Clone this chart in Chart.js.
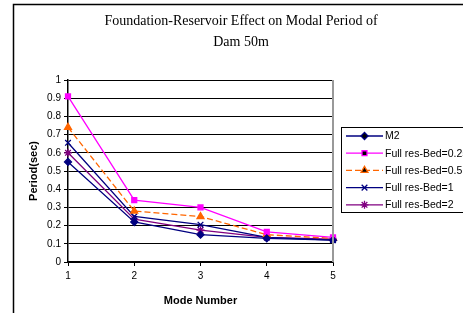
<!DOCTYPE html>
<html>
<head>
<meta charset="utf-8">
<script src="https://cdn.jsdelivr.net/npm/chart.js@4/dist/chart.umd.min.js"></script>
<style>
  html, body { margin: 0; padding: 0; background: #fff; }
  #wrap { width: 463px; height: 313px; position: relative; }
</style>
</head>
<body>
<div id="wrap"><canvas id="myChart" width="463" height="313"></canvas></div>
<script>
// chart data
var modes = ['1', '2', '3', '4', '5'];
var m2 = [0.55, 0.22, 0.15, 0.13, 0.12];
var bed025 = [0.91, 0.34, 0.30, 0.165, 0.135];
var bed05 = [0.74, 0.28, 0.25, 0.15, 0.13];
var bed1 = [0.655, 0.25, 0.205, 0.135, 0.12];
var bed2 = [0.60, 0.235, 0.175, 0.135, 0.125];
var titleLines = ['Foundation-Reservoir Effect on Modal Period of', 'Dam 50m'];

// frame, title and legend box drawn by hand (Excel look)
var decorPlugin = {
    id: 'decor',
    beforeDraw: function (chart) {
        var c = chart.ctx;
        c.save();
        c.fillStyle = '#fff';
        c.fillRect(0, 0, chart.width, chart.height);
        c.strokeStyle = '#000';
        c.lineWidth = 1.5;
        c.beginPath();
        c.moveTo(13.5, 313);
        c.lineTo(13.5, 4.5);
        c.lineTo(463, 4.5);
        c.stroke();
        c.fillStyle = '#000';
        c.font = '14px "Liberation Serif"';
        c.textAlign = 'center';
        c.textBaseline = 'middle';
        c.fillText(titleLines[0], 241, 21);
        c.fillText(titleLines[1], 241, 42);
        c.restore();
    },
    afterDraw: function (chart) {
        var c = chart.ctx;
        var area = chart.chartArea;
        c.save();
        // right plot border
        c.strokeStyle = '#999';
        c.lineWidth = 2;
        c.beginPath();
        c.moveTo(area.right, area.top);
        c.lineTo(area.right, area.bottom);
        c.stroke();
        // legend
        c.strokeStyle = '#000';
        c.lineWidth = 1;
        c.strokeRect(341.5, 127.5, 130, 85);
        c.font = '10.5px "Liberation Sans"';
        c.textAlign = 'left';
        c.textBaseline = 'middle';
        chart.data.datasets.forEach(function (ds, i) {
            var y = 136 + i * 17.2;
            c.strokeStyle = ds.borderColor;
            c.lineWidth = 1.3;
            c.setLineDash(ds.borderDash || []);
            c.beginPath();
            c.moveTo(346, y);
            c.lineTo(383, y);
            c.stroke();
            c.setLineDash([]);
            Chart.helpers.drawPoint(c, {
                pointStyle: ds.pointStyle,
                radius: ds.pointRadius,
                borderWidth: 1.3
            }, 364.5, y);
            c.fillStyle = '#000';
            c.fillText(ds.label, 385, y + 0.5);
        });
        c.restore();
    }
};

function series(label, data, color, style, radius, dash) {
    return {
        label: label,
        data: data,
        borderColor: color,
        backgroundColor: color,
        pointBackgroundColor: color,
        pointBorderColor: color,
        pointStyle: style,
        pointRadius: radius,
        pointBorderWidth: 1.3,
        borderWidth: 1.3,
        borderDash: dash,
        tension: 0,
        fill: false
    };
}

var ctx = document.getElementById('myChart').getContext('2d');
var myChart = new Chart(ctx, {
    type: 'line',
    data: {
        labels: modes,
        datasets: [
            series('M2', m2, '#000080', 'rectRot', 3.5, []),
            series('Full res-Bed=0.25', bed025, '#ff00ff', 'rect', 3.5, []),
            series('Full res-Bed=0.5', bed05, '#ff6600', 'triangle', 4, [6, 3]),
            series('Full res-Bed=1', bed1, '#000080', 'crossRot', 4, []),
            series('Full res-Bed=2', bed2, '#800080', 'star', 4, [])
        ]
    },
    plugins: [decorPlugin],
    options: {
        responsive: false,
        animation: false,
        layout: { padding: { left: 27, top: 80, right: 130, bottom: 0 } },
        plugins: {
            legend: { display: false },
            title: { display: false },
            tooltip: { enabled: false }
        },
        scales: {
            x: {
                offset: false,
                grid: {
                    display: true,
                    drawOnChartArea: false,
                    drawTicks: true,
                    tickLength: 4,
                    color: '#000'
                },
                border: { color: '#000', width: 1.5 },
                ticks: { color: '#000', font: { family: 'Liberation Sans', size: 10 }, padding: 4, maxRotation: 0 },
                title: {
                    display: true,
                    text: 'Mode Number',
                    color: '#000',
                    font: { family: 'Liberation Sans', size: 11, weight: 'bold' },
                    padding: { top: 2, bottom: 5 }
                },
                afterFit: function (scale) { scale.height = 51; }
            },
            y: {
                min: 0,
                max: 1,
                ticks: {
                    stepSize: 0.1,
                    color: '#000',
                    font: { family: 'Liberation Sans', size: 10 },
                    padding: 3,
                    callback: function (v) { return Math.round(v * 10) / 10; }
                },
                grid: { color: '#000', lineWidth: 1, tickLength: 4 },
                border: { color: '#000', width: 1.5 },
                title: {
                    display: true,
                    text: 'Period(sec)',
                    color: '#000',
                    font: { family: 'Liberation Sans', size: 11, weight: 'bold' },
                    padding: { top: 0, bottom: 0 }
                },
                afterFit: function (scale) { scale.width = 41; }
            }
        }
    }
});
</script>
</body>
</html>
